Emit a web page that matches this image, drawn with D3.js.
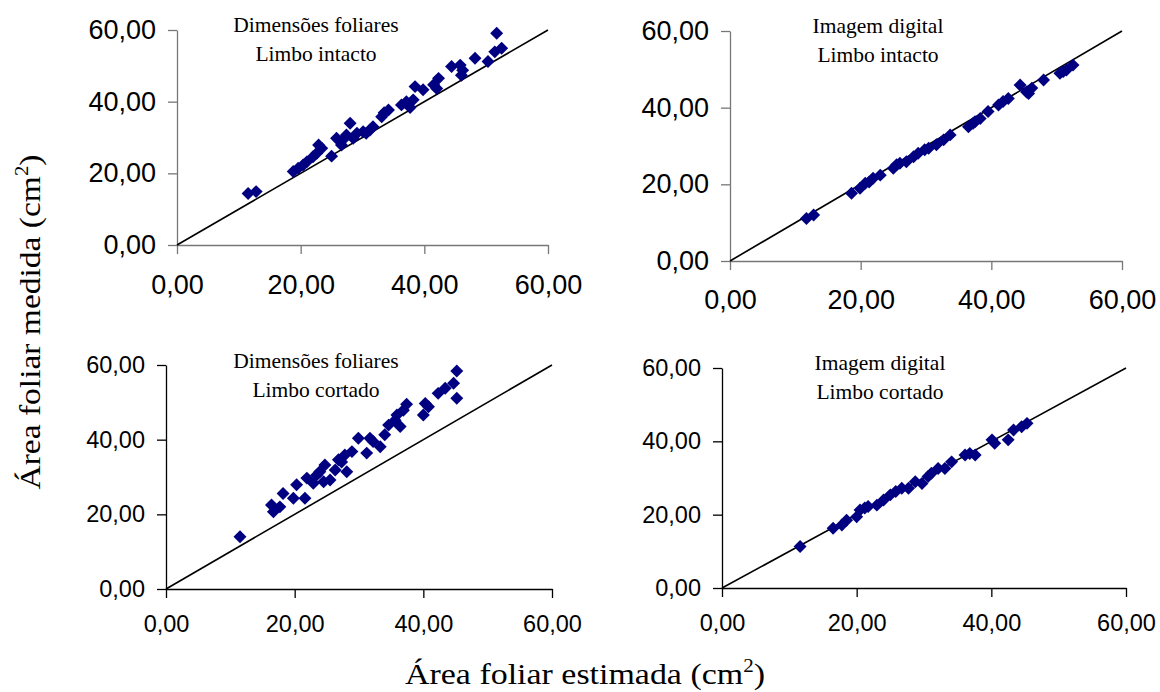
<!DOCTYPE html>
<html>
<head>
<meta charset="utf-8">
<script src="https://cdn.jsdelivr.net/npm/d3@7"></script>
<style>
  body { margin: 0; background: #fff; }
  .tick text { font-family: "Liberation Sans", Arial, sans-serif; fill: #000; }
  .title { font-family: "Liberation Serif", "Times New Roman", serif; font-size: 21.5px; fill: #000; }
  .axis-title { font-family: "Liberation Serif", "Times New Roman", serif; font-size: 29px; fill: #000; }
</style>
</head>
<body>
<svg width="1160" height="692"></svg>
<script>
// tick values shared by every axis
var tickValues = [0, 20, 40, 60];

var panelTitles = [
  ["Dimensões foliares", "Limbo intacto"],
  ["Imagem digital", "Limbo intacto"],
  ["Dimensões foliares", "Limbo cortado"],
  ["Imagem digital", "Limbo cortado"]
];

// Dimensões foliares - limbo intacto
var estDimIntacto = [11.5, 12.8, 18.8, 19.6, 20.4, 21.0, 22.0, 22.6, 22.9, 23.4, 25.0, 25.8, 26.6, 26.8, 27.4, 28.0, 28.5, 29.1, 30.1, 30.6, 31.2, 31.7, 33.1, 33.5, 34.2, 36.3, 37.1, 37.7, 38.2, 38.5, 39.8, 41.5, 42.0, 42.3, 44.4, 45.8, 46.0, 46.2, 48.2, 50.3, 51.4, 51.7, 52.5];
var medDimIntacto = [14.4, 14.9, 20.5, 21.4, 22.3, 23.2, 24.6, 25.6, 27.9, 27.0, 24.8, 29.8, 27.9, 29.3, 30.7, 34.0, 29.8, 31.2, 31.6, 31.2, 32.1, 33.0, 35.8, 36.9, 37.7, 39.1, 40.0, 38.4, 40.5, 44.2, 43.3, 44.7, 43.7, 46.5, 49.8, 50.2, 47.4, 48.8, 52.1, 51.2, 53.9, 59.1, 54.9];

// Imagem digital - limbo intacto
var estImgIntacto = [11.7, 12.8, 18.6, 19.9, 20.7, 21.3, 21.9, 23.0, 25.0, 25.5, 26.0, 27.0, 28.1, 28.8, 29.8, 30.4, 31.6, 32.7, 33.7, 36.5, 37.2, 37.5, 38.3, 39.5, 41.1, 41.8, 42.6, 44.4, 45.4, 45.7, 46.2, 48.0, 50.5, 51.0, 51.5, 52.5];
var medImgIntacto = [11.1, 12.0, 17.7, 19.0, 20.3, 20.6, 21.6, 22.4, 24.2, 25.1, 25.5, 25.9, 27.2, 28.1, 29.0, 29.4, 30.3, 31.6, 32.9, 35.0, 35.9, 36.3, 37.2, 39.0, 40.7, 41.6, 42.4, 45.9, 44.1, 43.7, 45.1, 47.2, 49.0, 49.4, 49.8, 51.1];

// Dimensões foliares - limbo cortado
var estDimCortado = [11.5, 16.4, 16.7, 17.7, 18.2, 19.8, 20.3, 21.6, 21.9, 22.9, 23.4, 23.9, 24.5, 24.7, 25.5, 26.3, 26.8, 27.3, 27.8, 28.1, 28.9, 29.9, 31.2, 31.7, 32.2, 33.3, 34.0, 34.6, 35.6, 35.9, 36.4, 36.9, 37.4, 40.0, 40.3, 40.8, 42.3, 43.4, 44.7, 45.2, 45.2];
var medDimCortado = [14.0, 22.5, 20.7, 22.0, 25.6, 24.3, 27.9, 24.3, 29.7, 28.3, 30.5, 31.4, 28.7, 33.2, 29.2, 31.9, 34.6, 34.0, 35.9, 31.4, 36.8, 40.4, 36.4, 40.4, 39.5, 38.1, 41.3, 43.9, 45.2, 46.6, 43.5, 47.9, 49.5, 46.6, 49.7, 48.8, 52.4, 53.8, 55.1, 58.4, 51.1];

// Imagem digital - limbo cortado
var estImgCortado = [11.6, 16.5, 17.8, 18.5, 20.0, 20.5, 21.2, 21.7, 23.0, 24.0, 25.0, 25.8, 26.7, 27.7, 28.7, 29.7, 30.6, 31.1, 32.1, 33.1, 34.1, 36.1, 36.8, 37.6, 40.1, 40.5, 42.5, 43.3, 44.5, 45.3];
var medImgCortado = [11.3, 16.3, 17.2, 18.5, 19.4, 21.3, 21.8, 22.2, 22.6, 24.0, 25.4, 26.3, 27.2, 27.2, 29.0, 28.5, 30.4, 31.3, 32.6, 32.6, 34.4, 36.3, 36.7, 36.3, 40.4, 39.5, 40.4, 43.1, 44.0, 44.9];

var estimated = [estDimIntacto, estImgIntacto, estDimCortado, estImgCortado];
var measured = [medDimIntacto, medImgIntacto, medDimCortado, medImgCortado];

// pixel boxes of the four plot areas
var panels = [
  {left: 177, right: 548, top: 30, bottom: 245, titleX: 316, titleY: 32, color: "#777", font: 27, xPad: 21},
  {left: 730, right: 1122, top: 31, bottom: 261, titleX: 878, titleY: 33, color: "#777", font: 27, xPad: 20},
  {left: 166, right: 552, top: 365, bottom: 589, titleX: 316, titleY: 368, color: "#000", font: 23.5, xPad: 17},
  {left: 722, right: 1126, top: 368, bottom: 588, titleX: 880, titleY: 370, color: "#000", font: 23.5, xPad: 17}
];

var svg = d3.select("svg");
var locale = d3.formatLocale({decimal: ",", thousands: ".", grouping: [3], currency: ["", ""]});
var fmt = locale.format(".2f");
var diamond = d3.symbol().type(d3.symbolSquare).size(84);

panels.forEach(function(p, i) {
  var x = d3.scaleLinear().domain([0, 60]).range([p.left, p.right]);
  var y = d3.scaleLinear().domain([0, 60]).range([p.bottom, p.top]);
  var g = svg.append("g");

  var xAxis = g.append("g")
    .attr("transform", "translate(0," + p.bottom + ")")
    .call(d3.axisBottom(x).tickValues(tickValues).tickFormat(fmt)
      .tickSizeInner(9).tickSizeOuter(0).tickPadding(p.xPad));
  var yAxis = g.append("g")
    .attr("transform", "translate(" + p.left + ",0)")
    .call(d3.axisLeft(y).tickValues(tickValues).tickFormat(fmt)
      .tickSizeInner(9).tickSizeOuter(0).tickPadding(12));

  [xAxis, yAxis].forEach(function(a) {
    a.select(".domain").attr("stroke", p.color).attr("stroke-width", 1.3);
    a.selectAll(".tick line").attr("stroke", p.color).attr("stroke-width", 1.3);
    a.selectAll(".tick text").style("font-size", p.font + "px");
  });

  // 1:1 line
  g.append("path")
    .datum([0, 60])
    .attr("fill", "none")
    .attr("stroke", "#000")
    .attr("stroke-width", 1.6)
    .attr("d", d3.line().x(function(d) { return x(d); }).y(function(d) { return y(d); }));

  g.append("g").selectAll("path")
    .data(d3.range(estimated[i].length))
    .enter().append("path")
    .attr("d", diamond)
    .attr("fill", "#000080")
    .attr("transform", function(k) {
      return "translate(" + x(estimated[i][k]) + "," + y(measured[i][k]) + ") rotate(45)";
    });

  var t = g.append("text").attr("class", "title").attr("text-anchor", "middle");
  t.append("tspan").attr("x", p.titleX).attr("y", p.titleY).text(panelTitles[i][0]);
  t.append("tspan").attr("x", p.titleX).attr("y", p.titleY + 29).text(panelTitles[i][1]);
});

// axis titles
var xt = svg.append("text").attr("class", "axis-title")
  .attr("x", 585).attr("y", 684).attr("text-anchor", "middle")
  .attr("textLength", 360).attr("lengthAdjust", "spacingAndGlyphs");
xt.append("tspan").text("Área foliar estimada (cm");
xt.append("tspan").attr("font-size", "18px").attr("dy", -12).text("2");
xt.append("tspan").attr("dy", 12).text(")");

var yt = svg.append("text").attr("class", "axis-title")
  .attr("transform", "translate(40,322) rotate(-90)")
  .attr("text-anchor", "middle")
  .attr("textLength", 335).attr("lengthAdjust", "spacingAndGlyphs");
yt.append("tspan").text("Área foliar medida (cm");
yt.append("tspan").attr("font-size", "18px").attr("dy", -12).text("2");
yt.append("tspan").attr("dy", 12).text(")");
</script>
</body>
</html>
